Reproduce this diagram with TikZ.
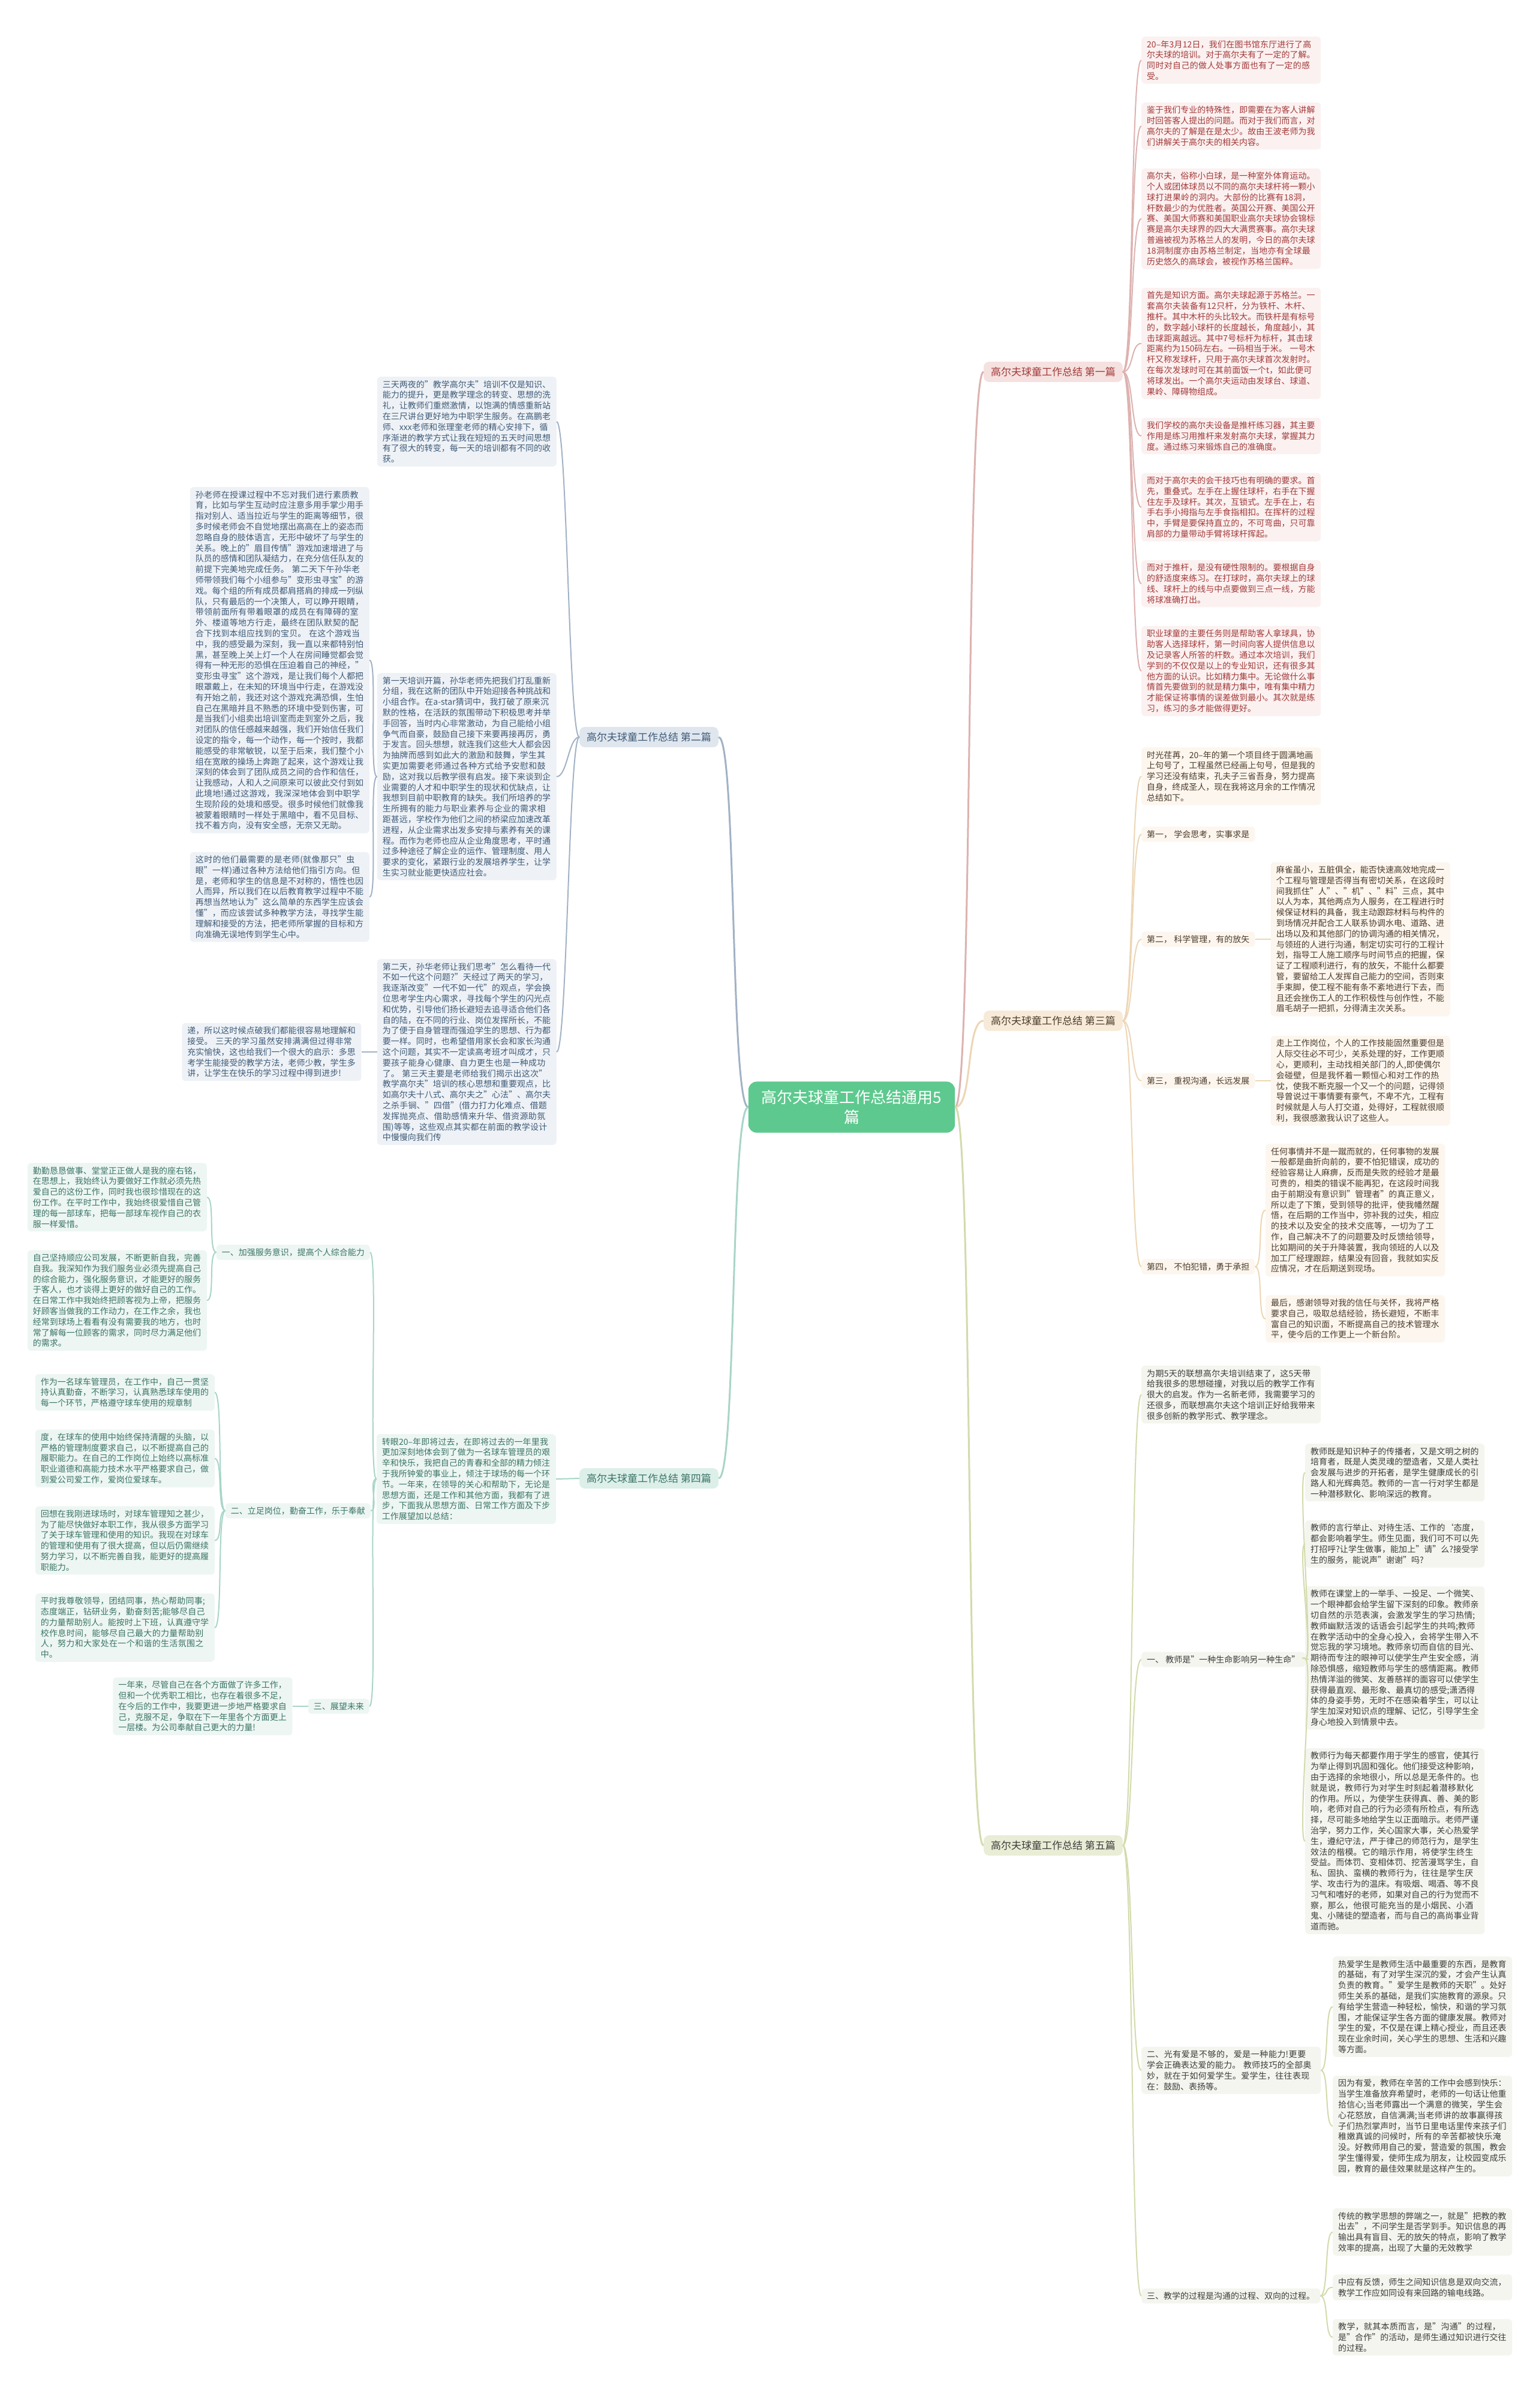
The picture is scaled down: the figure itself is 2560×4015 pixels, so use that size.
\documentclass[tikz,border=0pt]{standalone}
\usepackage{fontspec}
\setmainfont{Noto Sans CJK SC}
\XeTeXlinebreaklocale "zh"
\XeTeXlinebreakskip=0pt plus 1pt
\usetikzlibrary{positioning}

\definecolor{redtx}{HTML}{A23A3A}
\definecolor{redbg}{HTML}{FBF1F0}
\definecolor{redln}{HTML}{DDB2B0}
\definecolor{redtp}{HTML}{F5E1DF}
\definecolor{bluetx}{HTML}{3E5A78}
\definecolor{bluebg}{HTML}{EEF2F6}
\definecolor{blueln}{HTML}{A2B2C5}
\definecolor{bluetp}{HTML}{DFE6EE}
\definecolor{tantx}{HTML}{4D3C2C}
\definecolor{tanbg}{HTML}{FCF6EE}
\definecolor{tanln}{HTML}{EDD6B5}
\definecolor{tantp}{HTML}{F7EAD8}
\definecolor{tealtx}{HTML}{3B7466}
\definecolor{tealbg}{HTML}{EDF6F3}
\definecolor{tealln}{HTML}{A8D5C8}
\definecolor{tealtp}{HTML}{DCEFE9}
\definecolor{olivetx}{HTML}{3D3D3D}
\definecolor{olivebg}{HTML}{F4F5EE}
\definecolor{oliveln}{HTML}{D2DBAC}
\definecolor{olivetp}{HTML}{E9EDD5}
\definecolor{maingreen}{HTML}{5DC98E}

\tikzset{
  box/.style={rounded corners=6pt, inner xsep=9pt, inner ysep=6pt, font=\fontsize{14}{17.8}\selectfont},
  leaf/.style={box, text width=281pt, align=left},
  leafred/.style={leaf, fill=redbg, text=redtx},
  leafblue/.style={leaf, fill=bluebg, text=bluetx},
  leaftan/.style={leaf, fill=tanbg, text=tantx},
  leafteal/.style={leaf, fill=tealbg, text=tealtx},
  leafolive/.style={leaf, fill=olivebg, text=olivetx},
  tagtan/.style={box, fill=tanbg, text=tantx},
  tagteal/.style={box, fill=tealbg, text=tealtx},
  tagolive/.style={box, fill=olivebg, text=olivetx},
  topic/.style={rounded corners=9pt, inner xsep=12pt, inner ysep=9pt, font=\fontsize{17}{20}\selectfont},
  mainnode/.style={rounded corners=14pt, fill=maingreen, text=white, inner xsep=22pt, inner ysep=14pt, align=center, font=\fontsize{26}{33}\selectfont},
  link/.style={line width=2pt},
  linkred/.style={link, draw=redln},
  linkblue/.style={link, draw=blueln},
  linktan/.style={link, draw=tanln},
  linkteal/.style={link, draw=tealln},
  linkolive/.style={link, draw=oliveln},
}

\begin{document}
\begin{tikzpicture}[x=1pt, y=-1pt]
\fill[white] (0,0) rectangle (2560,4015);
\useasboundingbox (0,0) rectangle (2560,4015);

\node[mainnode] (main) at (1420,1846) {高尔夫球童工作总结通用5\\篇};

\node[topic, fill=redtp, text=redtx] (t1) at (1756,620) {高尔夫球童工作总结 第一篇};
\node[topic, fill=bluetp, text=bluetx] (t2) at (1082,1229) {高尔夫球童工作总结 第二篇};
\node[topic, fill=tantp, text=tantx] (t3) at (1756,1702) {高尔夫球童工作总结 第三篇};
\node[topic, fill=tealtp, text=tealtx] (t4) at (1082,2465) {高尔夫球童工作总结 第四篇};
\node[topic, fill=olivetp, text=olivetx] (t5) at (1756,3077) {高尔夫球童工作总结 第五篇};

\draw[linkred, line width=3pt] (main.east) .. controls +(30,0) and +(-30,0) .. (t1.west);
\draw[linktan, line width=3pt] (main.east) .. controls +(30,0) and +(-30,0) .. (t3.west);
\draw[linkolive, line width=3pt] (main.east) .. controls +(30,0) and +(-30,0) .. (t5.west);
\draw[linkblue, line width=3pt] (main.west) .. controls +(-30,0) and +(30,0) .. (t2.east);
\draw[linkteal, line width=3pt] (main.west) .. controls +(-30,0) and +(30,0) .. (t4.east);

\node[leafred, anchor=north west] (a1) at (1903,61) {20--年3月12日，我们在图书馆东厅进行了高尔夫球的培训。对于高尔夫有了一定的了解。同时对自己的做人处事方面也有了一定的感受。};
\node[leafred, below=31pt of a1.south west, anchor=north west] (a2) {鉴于我们专业的特殊性，即需要在为客人讲解时回答客人提出的问题。而对于我们而言，对高尔夫的了解是在是太少。故由王波老师为我们讲解关于高尔夫的相关内容。};
\node[leafred, below=31pt of a2.south west, anchor=north west] (a3) {高尔夫，俗称小白球，是一种室外体育运动。个人或团体球员以不同的高尔夫球杆将一颗小球打进果岭的洞内。大部份的比赛有18洞，杆数最少的为优胜者。英国公开赛、美国公开赛、美国大师赛和美国职业高尔夫球协会锦标赛是高尔夫球界的四大大满贯赛事。高尔夫球普遍被视为苏格兰人的发明，今日的高尔夫球18洞制度亦由苏格兰制定，当地亦有全球最历史悠久的高球会，被视作苏格兰国粹。};
\node[leafred, below=31pt of a3.south west, anchor=north west] (a4) {首先是知识方面。高尔夫球起源于苏格兰。一套高尔夫装备有12只杆，分为铁杆、木杆、推杆。其中木杆的头比较大。而铁杆是有标号的，数字越小球杆的长度越长，角度越小，其击球距离越远。其中7号标杆为标杆，其击球距离约为150码左右。一码相当于米。 一号木杆又称发球杆，只用于高尔夫球首次发射时。在每次发球时可在其前面饭一个t，如此便可将球发出。一个高尔夫运动由发球台、球道、果岭、障碍物组成。};
\node[leafred, below=31pt of a4.south west, anchor=north west] (a5) {我们学校的高尔夫设备是推杆练习器，其主要作用是练习用推杆来发射高尔夫球，掌握其力度。通过练习来锻炼自己的准确度。};
\node[leafred, below=31pt of a5.south west, anchor=north west] (a6) {而对于高尔夫的会干技巧也有明确的要求。首先，重叠式。左手在上握住球杆，右手在下握住左手及球杆。其次，互锁式。左手在上，右手右手小拇指与左手食指相扣。在挥杆的过程中，手臂是要保持直立的，不可弯曲，只可靠肩部的力量带动手臂将球杆挥起。};
\node[leafred, below=31pt of a6.south west, anchor=north west] (a7) {而对于推杆，是没有硬性限制的。要根据自身的舒适度来练习。在打球时，高尔夫球上的球线、球杆上的线与中点要做到三点一线，方能将球准确打出。};
\node[leafred, below=31pt of a7.south west, anchor=north west] (a8) {职业球童的主要任务则是帮助客人拿球具，协助客人选择球杆，第一时间向客人提供信息以及记录客人所答的杆数。通过本次培训，我们学到的不仅仅是以上的专业知识，还有很多其他方面的认识。比如精力集中。无论做什么事情首先要做到的就是精力集中，唯有集中精力才能保证将事情的误差做到最小。其次就是练习，练习的多才能做得更好。};
\foreach \k in {1,...,8}
  \draw[linkred] (t1.east) .. controls +(18,0) and +(-18,0) .. (a\k.west);

\node[leafblue, anchor=north east] (b0) at (928,628) {三天两夜的"教学高尔夫"培训不仅是知识、能力的提升，更是教学理念的转变、思想的洗礼，让教师们重燃激情，以饱满的情感重新站在三尺讲台更好地为中职学生服务。在高鹏老师、xxx老师和张理奎老师的精心安排下，循序渐进的教学方式让我在短短的五天时间思想有了很大的转变，每一天的培训都有不同的收获。};
\node[leafblue, anchor=north east] (b1) at (928,1122) {第一天培训开篇，孙华老师先把我们打乱重新分组，我在这新的团队中开始迎接各种挑战和小组合作。在a-star猜词中，我打破了原来沉默的性格，在活跃的氛围带动下积极思考并举手回答，当时内心非常激动，为自己能给小组争气而自豪，鼓励自己接下来要再接再厉，勇于发言。回头想想，就连我们这些大人都会因为抽牌而感到如此大的激励和鼓舞，学生其实更加需要老师通过各种方式给予安慰和鼓励，这对我以后教学很有启发。接下来谈到企业需要的人才和中职学生的现状和优缺点，让我想到目前中职教育的缺失。我们所培养的学生所拥有的能力与职业素养与企业的需求相距甚远，学校作为他们之间的桥梁应加速改革进程，从企业需求出发多安排与素养有关的课程。而作为老师也应从企业角度思考，平时通过多种途径了解企业的运作、管理制度、用人要求的变化，紧跟行业的发展培养学生，让学生实习就业能更快适应社会。};
\node[leafblue, anchor=north east] (b2) at (928,1599) {第二天，孙华老师让我们思考"怎么看待一代不如一代这个问题?"天经过了两天的学习，我逐渐改变"一代不如一代"的观点，学会换位思考学生内心需求，寻找每个学生的闪光点和优势，引导他们扬长避短去追寻适合他们各自的陆，在不同的行业、岗位发挥所长，不能为了便于自身管理而强迫学生的思想、行为都要一样。同时，也希望借用家长会和家长沟通这个问题，其实不一定读高考班才叫成才，只要孩子能身心健康、自力更生也是一种成功了。 第三天主要是老师给我们揭示出这次"教学高尔夫"培训的核心思想和重要观点，比如高尔夫十八式、高尔夫之"心法"、高尔夫之杀手锏、"四借"(借力打力化难点、借题发挥抛亮点、借助感情来升华、借资源助氛围)等等，这些观点其实都在前面的教学设计中慢慢向我们传};
\node[leafblue, anchor=north east] (b1a) at (616,812) {孙老师在授课过程中不忘对我们进行素质教育，比如与学生互动时应注意多用手掌少用手指对别人、适当拉近与学生的距离等细节，很多时候老师会不自觉地摆出高高在上的姿态而忽略自身的肢体语言，无形中破坏了与学生的关系。晚上的"眉目传情"游戏加速增进了与队员的感情和团队凝结力，在充分信任队友的前提下完美地完成任务。 第二天下午孙华老师带领我们每个小组参与"变形虫寻宝"的游戏。每个组的所有成员都肩搭肩的排成一列纵队，只有最后的一个决策人，可以睁开眼睛，带领前面所有带着眼罩的成员在有障碍的室外、楼道等地方行走，最终在团队默契的配合下找到本组应找到的宝贝。 在这个游戏当中，我的感受最为深刻，我一直以来都特别怕黑，甚至晚上关上灯一个人在房间睡觉都会觉得有一种无形的恐惧在压迫着自己的神经，"变形虫寻宝"这个游戏，是让我们每个人都把眼罩戴上，在未知的环境当中行走，在游戏没有开始之前，我还对这个游戏充满恐惧，生怕自己在黑暗并且不熟悉的环境中受到伤害，可是当我们小组卖出培训室而走到室外之后，我对团队的信任感越来越强，我们开始信任我们设定的指令，每一个动作，每一个按时，我都能感受的非常敏锐，以至于后来，我们整个小组在宽敞的操场上奔跑了起来，这个游戏让我深刻的体会到了团队成员之间的合作和信任，让我感动，人和人之间原来可以彼此交付到如此境地!通过这游戏，我深深地体会到中职学生现阶段的处境和感受。很多时候他们就像我被蒙着眼睛时一样处于黑暗中，看不见目标、找不着方向，没有安全感，无奈又无助。};
\node[leafblue, below=31pt of b1a.south east, anchor=north east] (b1b) {这时的他们最需要的是老师(就像那只"虫眼"一样)通过各种方法给他们指引方向。但是，老师和学生的信息是不对称的，悟性也因人而异，所以我们在以后教育教学过程中不能再想当然地认为"这么简单的东西学生应该会懂"，而应该尝试多种教学方法，寻找学生能理解和接受的方法，把老师所掌握的目标和方向准确无误地传到学生心中。};
\node[leafblue, left=26pt of b2] (b2a) {递，所以这时候点破我们都能很容易地理解和接受。 三天的学习虽然安排满满但过得非常充实愉快，这也给我们一个很大的启示：多思考学生能接受的教学方法，老师少教，学生多讲，让学生在快乐的学习过程中得到进步!};
\foreach \k in {b0,b1,b2}
  \draw[linkblue] (t2.west) .. controls +(-18,0) and +(18,0) .. (\k.east);
\foreach \k in {b1a,b1b}
  \draw[linkblue] (b1.west) .. controls +(-14,0) and +(14,0) .. (\k.east);
\draw[linkblue] (b2.west) -- (b2a.east);

\node[leaftan, anchor=north west] (c0) at (1903,1246) {时光荏苒，20--年的第一个项目终于圆满地画上句号了，工程虽然已经画上句号，但是我的学习还没有结束，孔夫子三省吾身，努力提高自身，终成圣人，现在我将这月余的工作情况总结如下。};
\node[tagtan, anchor=west] (c1) at (1903,1391) {第一， 学会思考，实事求是};
\node[tagtan, anchor=west] (c2) at (1903,1566) {第二， 科学管理，有的放矢};
\node[tagtan, anchor=west] (c3) at (1903,1802) {第三， 重视沟通，长远发展};
\node[tagtan, anchor=west] (c4) at (1903,2112) {第四， 不怕犯错，勇于承担};
\node[leaftan, right=26pt of c2] (c2a) {麻雀虽小，五脏俱全，能否快速高效地完成一个工程与管理是否得当有密切关系，在这段时间我抓住"人"、"机"、"料"三点，其中以人为本，其他两点为人服务，在工程进行时候保证材料的具备，我主动跟踪材料与构件的到场情况并配合工人联系协调水电、道路、进出场以及和其他部门的协调沟通的相关情况，与领班的人进行沟通，制定切实可行的工程计划，指导工人施工顺序与时间节点的把握，保证了工程顺利进行，有的放矢，不能什么都要管，要留给工人发挥自己能力的空间，否则束手束脚，使工程不能有条不紊地进行下去，而且还会挫伤工人的工作积极性与创作性，不能眉毛胡子一把抓，分得清主次关系。};
\node[leaftan, right=26pt of c3] (c3a) {走上工作岗位，个人的工作技能固然重要但是人际交往必不可少，关系处理的好，工作更顺心，更顺利，主动找相关部门的人,即使偶尔会碰壁，但是我怀着一颗恒心和对工作的热忱，使我不断克服一个又一个的问题，记得领导曾说过干事情要有豪气，不卑不亢，工程有时候就是人与人打交道，处得好，工程就很顺利，我很感激我认识了这些人。};
\node[leaftan, anchor=north west] (c4a) at (2110,1907) {任何事情并不是一蹴而就的，任何事物的发展一般都是曲折向前的，要不怕犯错误，成功的经验容易让人麻痹，反而是失败的经验才是最可贵的，相类的错误不能再犯，在这段时间我由于前期没有意识到"管理者"的真正意义，所以走了下策，受到领导的批评，使我幡然醒悟，在后期的工作当中，弥补我的过失，相应的技术以及安全的技术交底等，一切为了工作，自己解决不了的问题要及时反馈给领导，比如期间的关于升降装置，我向领班的人以及加工厂经理跟踪，结果没有回音，我就如实反应情况，才在后期送到现场。};
\node[leaftan, below=31pt of c4a.south west, anchor=north west] (c4b) {最后，感谢领导对我的信任与关怀，我将严格要求自己，吸取总结经验，扬长避短，不断丰富自己的知识面，不断提高自己的技术管理水平，使今后的工作更上一个新台阶。};
\foreach \k in {c0,c1,c2,c3,c4}
  \draw[linktan] (t3.east) .. controls +(18,0) and +(-18,0) .. (\k.west);
\draw[linktan] (c2.east) -- (c2a.west);
\draw[linktan] (c3.east) -- (c3a.west);
\foreach \k in {c4a,c4b}
  \draw[linktan] (c4.east) .. controls +(14,0) and +(-14,0) .. (\k.west);

\node[leafteal, anchor=north east] (d0) at (927,2391) {转眼20--年即将过去，在即将过去的一年里我更加深刻地体会到了做为一名球车管理员的艰辛和快乐，我把自己的青春和全部的精力倾注于我所钟爱的事业上，倾注于球场的每一个环节。一年来，在领导的关心和帮助下，无论是思想方面，还是工作和其他方面，我都有了进步，下面我从思想方面、日常工作方面及下步工作展望加以总结：};
\node[tagteal, anchor=east] (d1) at (617,2088) {一、加强服务意识，提高个人综合能力};
\node[tagteal, anchor=east] (d2) at (618,2519) {二、立足岗位，勤奋工作，乐于奉献};
\node[tagteal, anchor=east] (d3) at (616,2845) {三、展望未来};
\node[leafteal, anchor=north east] (d1a) at (345,1939) {勤勤恳恳做事、堂堂正正做人是我的座右铭，在思想上，我始终认为要做好工作就必须先热爱自己的这份工作，同时我也很珍惜现在的这份工作。在平时工作中，我始终很爱惜自己管理的每一部球车，把每一部球车视作自己的衣服一样爱惜。};
\node[leafteal, below=31pt of d1a.south east, anchor=north east] (d1b) {自己坚持顺应公司发展，不断更新自我，完善自我。我深知作为我们服务业必须先提高自己的综合能力，强化服务意识，才能更好的服务于客人，也才谈得上更好的做好自己的工作。在日常工作中我始终把顾客视为上帝，把服务好顾客当做我的工作动力，在工作之余，我也经常到球场上看看有没有需要我的地方，也时常了解每一位顾客的需求，同时尽力满足他们的需求。};
\node[leafteal, anchor=north east] (d2a) at (358,2291) {作为一名球车管理员，在工作中，自己一贯坚持认真勤奋，不断学习，认真熟悉球车使用的每一个环节，严格遵守球车使用的规章制};
\node[leafteal, below=31pt of d2a.south east, anchor=north east] (d2b) {度，在球车的使用中始终保持清醒的头脑，以严格的管理制度要求自己，以不断提高自己的履职能力。在自己的工作岗位上始终以高标准职业道德和高能力技术水平严格要求自己，做到爱公司爱工作，爱岗位爱球车。};
\node[leafteal, below=31pt of d2b.south east, anchor=north east] (d2c) {回想在我刚进球场时，对球车管理知之甚少，为了能尽快做好本职工作，我从很多方面学习了关于球车管理和使用的知识。我现在对球车的管理和使用有了很大提高，但以后仍需继续努力学习，以不断完善自我，能更好的提高履职能力。};
\node[leafteal, below=31pt of d2c.south east, anchor=north east] (d2d) {平时我尊敬领导，团结同事，热心帮助同事;态度端正，钻研业务，勤奋刻苦;能够尽自己的力量帮助别人。能按时上下班，认真遵守学校作息时间，能够尽自己最大的力量帮助别人，努力和大家处在一个和谐的生活氛围之中。};
\node[leafteal, left=26pt of d3] (d3a) {一年来，尽管自己在各个方面做了许多工作，但和一个优秀职工相比，也存在着很多不足，在今后的工作中，我要更进一步地严格要求自己，克服不足，争取在下一年里各个方面更上一层楼。为公司奉献自己更大的力量!};
\draw[linkteal] (t4.west) -- (d0.east);
\foreach \k in {d1,d2,d3}
  \draw[linkteal] (d0.west) .. controls +(-14,0) and +(14,0) .. (\k.east);
\foreach \k in {d1a,d1b}
  \draw[linkteal] (d1.west) .. controls +(-14,0) and +(14,0) .. (\k.east);
\foreach \k in {d2a,d2b,d2c,d2d}
  \draw[linkteal] (d2.west) .. controls +(-14,0) and +(14,0) .. (\k.east);
\draw[linkteal] (d3.west) -- (d3a.east);

\node[leafolive, anchor=north west] (e0) at (1903,2277) {为期5天的联想高尔夫培训结束了，这5天带给我很多的思想碰撞，对我以后的教学工作有很大的启发。作为一名新老师，我需要学习的还很多，而联想高尔夫这个培训正好给我带来很多创新的教学形式、教学理念。};
\node[tagolive, anchor=west] (e1) at (1903,2767) {一、 教师是"一种生命影响另一种生命"};
\node[leafolive, anchor=west] (e2) at (1903,3452) {二、光有爱是不够的，爱是一种能力!更要学会正确表达爱的能力。 教师技巧的全部奥妙，就在于如何爱学生。爱学生，往往表现在：鼓励、表扬等。};
\node[tagolive, anchor=west] (e3) at (1903,3828) {三、教学的过程是沟通的过程、双向的过程。};
\node[leafolive, anchor=north west] (e1a) at (2176,2407) {教师既是知识种子的传播者，又是文明之树的培育者，既是人类灵魂的塑造者，又是人类社会发展与进步的开拓者，是学生健康成长的引路人和光辉典范。教师的一言一行对学生都是一种潜移默化、影响深远的教育。};
\node[leafolive, below=31pt of e1a.south west, anchor=north west] (e1b) {教师的言行举止、对待生活、工作的`态度，都会影响着学生。师生见面，我们可不可以先打招呼?让学生做事，能加上"请"么?接受学生的服务，能说声"谢谢"吗?};
\node[leafolive, below=31pt of e1b.south west, anchor=north west] (e1c) {教师在课堂上的一举手、一投足、一个微笑、一个眼神都会给学生留下深刻的印象。教师亲切自然的示范表演，会激发学生的学习热情;教师幽默活泼的话语会引起学生的共鸣;教师在教学活动中的全身心投入，会将学生带入不觉忘我的学习境地。教师亲切而自信的目光、期待而专注的眼神可以使学生产生安全感，消除恐惧感，缩短教师与学生的感情距离。教师热情洋溢的微笑、友善慈祥的面容可以使学生获得最直观、最形象、最真切的感受;潇洒得体的身姿手势，无时不在感染着学生，可以让学生加深对知识点的理解、记忆，引导学生全身心地投入到情景中去。};
\node[leafolive, below=31pt of e1c.south west, anchor=north west] (e1d) {教师行为每天都要作用于学生的感官，使其行为举止得到巩固和强化。他们接受这种影响，由于选择的余地很小，所以总是无条件的。也就是说，教师行为对学生时刻起着潜移默化的作用。所以，为使学生获得真、善、美的影响，老师对自己的行为必须有所检点，有所选择，尽可能多地给学生以正面暗示。老师严谨治学，努力工作，关心国家大事，关心热爱学生，遵纪守法，严于律己的师范行为，是学生效法的楷模。它的暗示作用，将使学生终生受益。而体罚、变相体罚、挖苦漫骂学生，自私、固执、蛮横的教师行为，往往是学生厌学、攻击行为的温床。有吸烟、喝酒、等不良习气和嗜好的老师，如果对自己的行为觉而不察，那么，他很可能充当的是小烟民、小酒鬼、小赌徒的塑造者，而与自己的高尚事业背道而驰。};
\node[leafolive, anchor=north west] (e2a) at (2222,3262) {热爱学生是教师生活中最重要的东西，是教育的基础，有了对学生深沉的爱，才会产生认真负责的教育。"爱学生是教师的天职"。处好师生关系的基础，是我们实施教育的源泉。只有给学生营造一种轻松，愉快，和谐的学习氛围，才能保证学生各方面的健康发展。教师对学生的爱，不仅是在课上精心授业，而且还表现在业余时间，关心学生的思想、生活和兴趣等方面。};
\node[leafolive, below=31pt of e2a.south west, anchor=north west] (e2b) {因为有爱，教师在辛苦的工作中会感到快乐：当学生准备放弃希望时，老师的一句话让他重拾信心;当老师露出一个满意的微笑，学生会心花怒放，自信满满;当老师讲的故事赢得孩子们热烈掌声时，当节日里电话里传来孩子们稚嫩真诚的问候时，所有的辛苦都被快乐淹没。好教师用自己的爱，营造爱的氛围，教会学生懂得爱，使师生成为朋友，让校园变成乐园，教育的最佳效果就是这样产生的。};
\node[leafolive, anchor=north west] (e3a) at (2222,3682) {传统的教学思想的弊端之一，就是"把教的教出去"，不问学生是否学到手。知识信息的再输出具有盲目、无的放矢的特点，影响了教学效率的提高，出现了大量的无效教学};
\node[leafolive, below=31pt of e3a.south west, anchor=north west] (e3b) {中应有反馈，师生之间知识信息是双向交流，教学工作应如同设有来回路的输电线路。};
\node[leafolive, below=31pt of e3b.south west, anchor=north west] (e3c) {教学，就其本质而言，是"沟通"的过程，是"合作"的活动，是师生通过知识进行交往的过程。};
\foreach \k in {e0,e1,e2,e3}
  \draw[linkolive] (t5.east) .. controls +(18,0) and +(-18,0) .. (\k.west);
\foreach \k in {e1a,e1b,e1c,e1d}
  \draw[linkolive] (e1.east) .. controls +(14,0) and +(-14,0) .. (\k.west);
\foreach \k in {e2a,e2b}
  \draw[linkolive] (e2.east) .. controls +(14,0) and +(-14,0) .. (\k.west);
\foreach \k in {e3a,e3b,e3c}
  \draw[linkolive] (e3.east) .. controls +(14,0) and +(-14,0) .. (\k.west);
\end{tikzpicture}
\end{document}
